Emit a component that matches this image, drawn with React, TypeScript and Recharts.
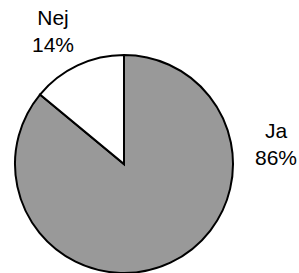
import { PieChart, Pie, Cell } from 'recharts';

// Share of answers
const answers = ['Ja', 'Nej'];
const shares = [86, 14];
const sliceColors = ['#999999', '#ffffff'];

const data = answers.map((name, i) => ({ name, value: shares[i] }));

// Label placement relative to the pie centre (first baseline)
const labelOffsets = [
  { dx: 152, dy: -26 },
  { dx: -71, dy: -139 },
];

const renderLabel = (props: any) => {
  const { cx, cy, index, name, percent } = props;
  const off = labelOffsets[index];
  const x = cx + off.dx;
  const y = cy + off.dy;
  return (
    <text
      x={x}
      y={y}
      textAnchor="middle"
      fill="#000"
      style={{ fontFamily: '"Liberation Sans", Arial, sans-serif', fontSize: 21 }}
    >
      <tspan x={x} y={y}>{name}</tspan>
      <tspan x={x} y={y + 27}>{`${Math.round(percent * 100)}%`}</tspan>
    </text>
  );
};

export default function App() {
  return (
    <div style={{ position: 'absolute', left: 0, top: 0, width: 299, height: 273, background: '#fff' }}>
      <PieChart width={299} height={273} margin={{ top: 0, right: 0, bottom: 0, left: 0 }}>
        <Pie
          data={data}
          dataKey="value"
          nameKey="name"
          cx={124}
          cy={164}
          outerRadius={109}
          startAngle={90}
          endAngle={-270}
          stroke="#000"
          strokeWidth={2}
          label={renderLabel}
          labelLine={false}
          isAnimationActive={false}
        >
          {data.map((d, i) => (
            <Cell key={d.name} fill={sliceColors[i]} />
          ))}
        </Pie>
      </PieChart>
    </div>
  );
}
